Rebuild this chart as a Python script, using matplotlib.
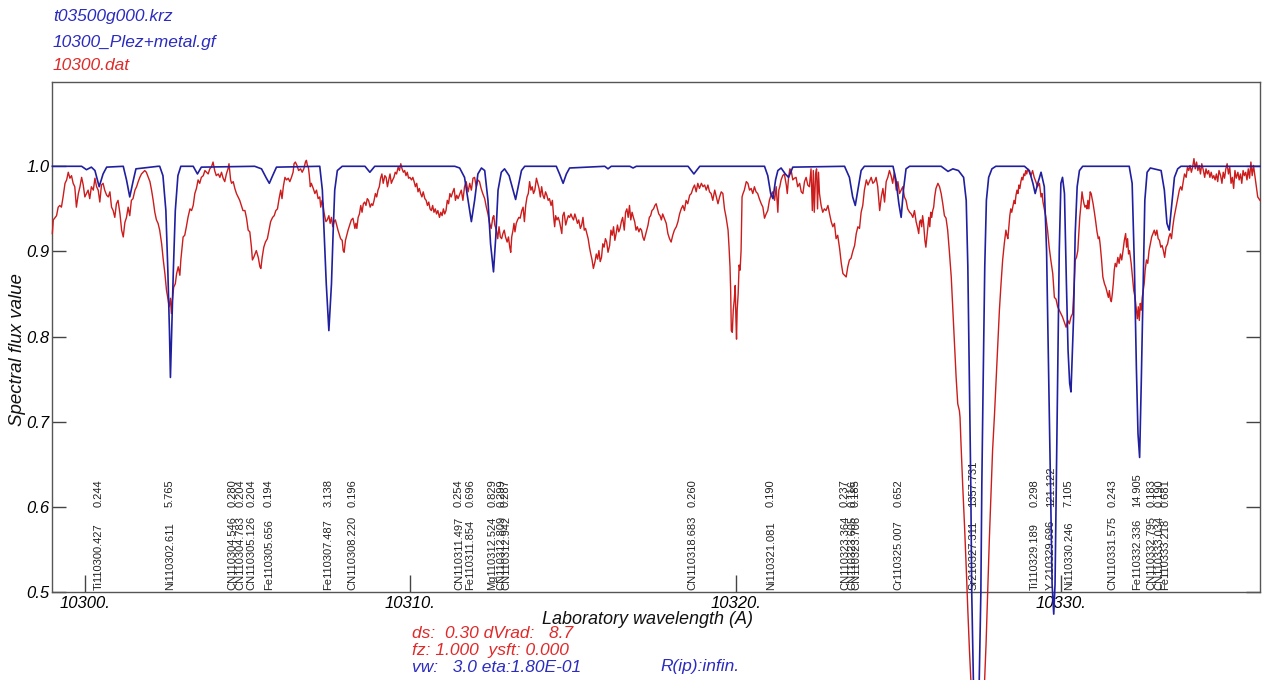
import matplotlib
matplotlib.use("Agg")
import matplotlib.pyplot as plt
import numpy as np

# ---------------- data ----------------
# observed spectrum (10300.dat), wavelength [A], flux
obs_a = [(10299.00,0.921),(10299.03,0.937),(10299.13,0.942),(10299.18,0.952),(10299.23,0.954),(10299.28,0.952),
 (10299.33,0.964),(10299.39,0.980),(10299.44,0.984),(10299.49,0.993),(10299.54,0.986),(10299.59,0.989),
 (10299.64,0.980),(10299.69,0.976),(10299.74,0.952),(10299.80,0.968),(10299.85,0.976),(10299.90,0.987),
 (10299.95,0.978),(10300.00,0.964),(10300.05,0.968),(10300.10,0.972),(10300.15,0.962),(10300.20,0.976),
 (10300.26,0.972),(10300.31,0.986),(10300.36,0.976),(10300.41,0.972),(10300.46,0.958),(10300.51,0.978),
 (10300.56,0.980),(10300.61,0.972),(10300.67,0.966),(10300.72,0.964),(10300.77,0.970),(10300.82,0.952),
 (10300.87,0.948),(10300.92,0.940),(10300.97,0.956),(10301.02,0.960),(10301.08,0.944),(10301.13,0.925),
 (10301.18,0.917),(10301.23,0.934),(10301.28,0.940),(10301.33,0.952),(10301.38,0.942),(10301.43,0.960),
 (10301.48,0.962),(10301.54,0.972),(10301.59,0.976),(10301.64,0.982),(10301.69,0.987),(10301.74,0.991),
 (10301.79,0.993),(10301.84,0.995),(10301.89,0.993),(10301.95,0.987),(10302.00,0.982),(10302.05,0.972),
 (10302.10,0.960),(10302.15,0.946),(10302.20,0.937),(10302.25,0.933),(10302.30,0.925),(10302.36,0.909),
 (10302.41,0.890),(10302.46,0.874),(10302.51,0.854),(10302.56,0.843),(10302.59,0.835),(10302.63,0.845),
 (10302.66,0.827),(10302.69,0.843),(10302.73,0.858),(10302.78,0.862),(10302.82,0.874),(10302.87,0.882),
 (10302.92,0.872),(10302.95,0.890),(10302.99,0.905),(10303.02,0.917),(10303.07,0.919),(10303.12,0.929),
 (10303.17,0.940),(10303.23,0.950),(10303.28,0.948),(10303.33,0.954),(10303.38,0.968),(10303.43,0.974),
 (10303.48,0.984),(10303.53,0.980),(10303.58,0.987),(10303.64,0.989),(10303.69,0.995),(10303.74,0.993),
 (10303.79,0.991),(10303.84,0.997),(10303.89,0.999),(10303.94,1.005),(10303.99,0.995),(10304.04,0.989),
 (10304.10,0.991),(10304.15,0.987),(10304.20,0.993),(10304.25,0.986),(10304.30,0.982),(10304.35,0.991),
 (10304.40,0.997),(10304.43,1.003),(10304.48,0.984),(10304.51,0.980),(10304.56,0.982),(10304.61,0.974),
 (10304.66,0.968),(10304.71,0.964),(10304.76,0.960),(10304.81,0.954),(10304.86,0.948),(10304.92,0.948),
 (10304.97,0.939),(10305.02,0.925),(10305.07,0.923),(10305.12,0.905),(10305.15,0.890),(10305.19,0.893)]

obs_b = [(10305.27,0.901),(10305.33,0.893),(10305.38,0.882),(10305.41,0.880),(10305.45,0.893),(10305.50,0.905),
 (10305.55,0.911),(10305.61,0.915),(10305.66,0.925),(10305.71,0.935),(10305.77,0.940),(10305.82,0.942),
 (10305.87,0.948),(10305.92,0.950),(10305.97,0.962),(10306.02,0.972),(10306.06,0.962),(10306.10,0.976),
 (10306.15,0.987),(10306.20,0.984),(10306.25,0.986),(10306.30,0.982),(10306.35,0.987),(10306.40,0.993),
 (10306.43,1.003),(10306.47,1.005),(10306.52,1.001),(10306.57,0.995),(10306.63,0.997),(10306.68,0.993),
 (10306.73,0.997),(10306.78,1.005),(10306.81,1.007),(10306.84,1.001),(10306.87,0.999),(10306.90,0.989),
 (10306.93,0.976),(10306.96,0.980),(10307.02,0.974),(10307.07,0.968),(10307.12,0.972),(10307.17,0.962),
 (10307.22,0.964),(10307.25,0.952),(10307.29,0.960),(10307.32,0.956),(10307.35,0.946),(10307.38,0.940),
 (10307.41,0.935),(10307.45,0.937),(10307.50,0.942),(10307.54,0.933),(10307.58,0.940),(10307.62,0.929),
 (10307.66,0.935),(10307.70,0.937),(10307.74,0.931),(10307.78,0.925),(10307.83,0.919),(10307.86,0.915),
 (10307.91,0.913),(10307.94,0.901),(10307.97,0.899),(10308.01,0.913),(10308.05,0.919),(10308.09,0.925),
 (10308.14,0.931),(10308.19,0.937),(10308.24,0.939),(10308.30,0.927),(10308.33,0.933),(10308.36,0.927),
 (10308.40,0.940),(10308.44,0.944),(10308.48,0.954),(10308.52,0.946),(10308.56,0.956),(10308.60,0.958),
 (10308.64,0.954),(10308.68,0.962),(10308.72,0.960),(10308.77,0.952),(10308.81,0.956),(10308.85,0.954),
 (10308.89,0.960),(10308.93,0.968),(10308.97,0.964),(10309.01,0.972),(10309.05,0.976),(10309.09,0.986),
 (10309.13,0.991),(10309.17,0.980),(10309.22,0.989),(10309.26,0.987),(10309.30,0.976),(10309.34,0.984),
 (10309.38,0.991),(10309.42,0.980),(10309.46,0.984),(10309.50,0.987),(10309.54,0.993),(10309.58,0.991),
 (10309.63,0.999),(10309.67,0.995),(10309.71,1.003),(10309.75,0.997),(10309.79,0.993),(10309.83,0.995),
 (10309.87,0.989),(10309.91,0.993),(10309.95,0.986),(10309.99,0.987),(10310.04,0.984),(10310.08,0.987),
 (10310.12,0.982),(10310.16,0.976),(10310.20,0.980),(10310.24,0.970),(10310.28,0.974),(10310.32,0.968),
 (10310.36,0.964),(10310.40,0.970),(10310.45,0.962),(10310.49,0.960),(10310.53,0.954),(10310.57,0.958),
 (10310.61,0.950),(10310.65,0.948),(10310.69,0.954),(10310.73,0.946),(10310.77,0.950),(10310.81,0.944),
 (10310.85,0.948),(10310.90,0.940),(10310.94,0.946),(10310.98,0.942),(10311.02,0.950),(10311.06,0.944),
 (10311.10,0.948),(10311.14,0.960),(10311.18,0.956),(10311.22,0.968),(10311.26,0.964),(10311.31,0.970),
 (10311.35,0.974),(10311.39,0.960),(10311.43,0.966),(10311.47,0.962)]

obs_c = [(10311.57,0.972),(10311.62,0.960),(10311.67,0.976),(10311.72,0.982),(10311.78,0.970),(10311.83,0.980),
 (10311.88,0.972),(10311.93,0.986),(10311.98,0.987),(10312.03,0.976),(10312.08,0.984),(10312.13,0.982),
 (10312.18,0.974),(10312.23,0.968),(10312.29,0.962),(10312.34,0.952),(10312.39,0.944),(10312.44,0.933),
 (10312.49,0.927),(10312.54,0.940),(10312.57,0.942),(10312.60,0.931),(10312.65,0.925),(10312.69,0.915),
 (10312.73,0.929),(10312.77,0.917),(10312.81,0.915),(10312.85,0.921),(10312.89,0.925),(10312.93,0.917),
 (10312.98,0.911),(10313.02,0.917),(10313.06,0.905),(10313.09,0.899),(10313.12,0.917),(10313.16,0.925),
 (10313.19,0.933),(10313.22,0.923),(10313.26,0.933),(10313.30,0.937),(10313.34,0.940),(10313.38,0.939),
 (10313.43,0.948),(10313.47,0.952),(10313.51,0.935),(10313.55,0.954),(10313.59,0.964),(10313.63,0.968),
 (10313.67,0.982),(10313.71,0.972),(10313.75,0.976),(10313.79,0.968),(10313.83,0.972),(10313.88,0.986),
 (10313.92,0.980),(10313.96,0.974),(10314.00,0.964),(10314.04,0.976),(10314.08,0.966),(10314.12,0.962),
 (10314.16,0.970),(10314.20,0.966),(10314.24,0.960),(10314.28,0.962),(10314.33,0.954),(10314.37,0.960),
 (10314.41,0.940),(10314.44,0.929),(10314.47,0.942),(10314.51,0.937),(10314.55,0.940),(10314.59,0.935),
 (10314.63,0.927),(10314.66,0.921),(10314.69,0.942),(10314.73,0.946),(10314.78,0.931),(10314.82,0.937),
 (10314.86,0.942),(10314.90,0.940),(10314.94,0.944),(10314.98,0.940),(10315.02,0.937),(10315.06,0.944),
 (10315.10,0.939),(10315.14,0.933),(10315.18,0.937),(10315.23,0.927),(10315.27,0.931),(10315.31,0.940),
 (10315.35,0.925),(10315.39,0.927),(10315.43,0.921),(10315.47,0.915),(10315.51,0.905),(10315.55,0.897),
 (10315.59,0.890),(10315.63,0.880),(10315.68,0.888),(10315.72,0.897),(10315.76,0.891),(10315.80,0.901),
 (10315.84,0.888),(10315.88,0.893),(10315.92,0.909),(10315.96,0.905),(10316.00,0.915),(10316.04,0.911),
 (10316.08,0.899),(10316.13,0.907),(10316.17,0.925),(10316.21,0.919),(10316.25,0.929),(10316.29,0.913),
 (10316.33,0.921),(10316.37,0.931),(10316.41,0.923),(10316.45,0.927),(10316.49,0.935),(10316.53,0.940),
 (10316.58,0.925),(10316.62,0.946),(10316.66,0.950),(10316.70,0.940),(10316.74,0.954),(10316.78,0.937),
 (10316.82,0.946),(10316.86,0.940),(10316.90,0.935),(10316.94,0.925),(10316.98,0.929),(10317.03,0.923),
 (10317.07,0.927),(10317.11,0.925),(10317.15,0.917),(10317.19,0.913),(10317.23,0.919),(10317.27,0.925),
 (10317.31,0.931),(10317.35,0.940),(10317.39,0.942),(10317.43,0.948),(10317.48,0.950),(10317.52,0.954),
 (10317.56,0.956),(10317.60,0.950),(10317.64,0.944),(10317.68,0.942),(10317.72,0.937),(10317.76,0.944)]

obs_d = [(10317.87,0.933),(10317.92,0.921),(10317.97,0.915),(10318.02,0.911),(10318.07,0.919),(10318.12,0.925),
 (10318.18,0.929),(10318.23,0.935),(10318.28,0.944),(10318.33,0.950),(10318.38,0.954),(10318.43,0.948),
 (10318.48,0.960),(10318.53,0.956),(10318.59,0.966),(10318.64,0.968),(10318.69,0.974),(10318.74,0.978),
 (10318.79,0.970),(10318.84,0.980),(10318.89,0.974),(10318.95,0.980),(10319.00,0.976),(10319.05,0.978),
 (10319.10,0.972),(10319.15,0.978),(10319.20,0.970),(10319.25,0.968),(10319.30,0.960),(10319.36,0.972),
 (10319.41,0.964),(10319.46,0.956),(10319.51,0.964),(10319.56,0.970),(10319.61,0.968),(10319.66,0.950),
 (10319.71,0.940),(10319.77,0.925),(10319.80,0.905),(10319.83,0.882),(10319.85,0.854),(10319.87,0.807),
 (10319.90,0.805),(10319.93,0.831),(10319.96,0.843),(10319.99,0.860),(10320.01,0.823),(10320.03,0.797),
 (10320.05,0.831),(10320.08,0.850),(10320.11,0.884),(10320.14,0.878),(10320.17,0.901),(10320.20,0.964),
 (10320.23,0.968),(10320.27,0.972),(10320.33,0.982),(10320.38,0.980),(10320.43,0.972),(10320.48,0.974),
 (10320.53,0.968),(10320.58,0.976),(10320.63,0.970),(10320.68,0.968),(10320.73,0.962),(10320.79,0.956),
 (10320.84,0.952),(10320.89,0.939),(10320.94,0.944),(10320.99,0.948),(10321.04,0.960),(10321.09,0.966),
 (10321.14,0.970),(10321.20,0.960),(10321.25,0.976),(10321.30,0.946),(10321.33,0.972),(10321.36,0.976),
 (10321.40,0.984),(10321.45,0.989),(10321.50,0.991),(10321.56,0.978),(10321.59,0.968),(10321.63,0.987),
 (10321.67,0.997),(10321.71,0.995),(10321.76,0.984),(10321.81,0.986),(10321.86,0.987),(10321.91,0.976),
 (10321.97,0.980),(10322.02,0.970),(10322.07,0.968),(10322.12,0.982),(10322.17,0.987),(10322.22,0.978),
 (10322.27,0.976),(10322.32,0.997),(10322.36,0.948),(10322.39,0.995),(10322.42,0.946),(10322.46,0.991),
 (10322.49,0.997),(10322.52,0.950),(10322.55,0.993),(10322.58,0.968),(10322.63,0.954),(10322.68,0.946),
 (10322.73,0.950),(10322.78,0.948),(10322.84,0.954),(10322.89,0.944),(10322.94,0.935),(10322.99,0.929),
 (10323.04,0.933),(10323.09,0.915),(10323.14,0.919),(10323.20,0.903),(10323.25,0.886),(10323.30,0.874),
 (10323.35,0.872),(10323.40,0.870),(10323.45,0.882),(10323.50,0.890),(10323.55,0.892),(10323.61,0.901),
 (10323.66,0.907),(10323.71,0.921),(10323.76,0.929),(10323.81,0.927),(10323.86,0.946),(10323.91,0.954),
 (10323.96,0.972),(10324.02,0.984),(10324.07,0.978)]

obs_e = [(10324.17,0.987),(10324.22,0.980),(10324.27,0.982),(10324.32,0.987),(10324.37,0.976),(10324.43,0.948),
 (10324.48,0.964),(10324.53,0.974),(10324.58,0.958),(10324.63,0.982),(10324.68,0.987),(10324.73,0.995),
 (10324.78,0.989),(10324.83,0.980),(10324.88,0.993),(10324.94,0.972),(10324.99,0.982),(10325.04,0.968),
 (10325.09,0.972),(10325.14,0.976),(10325.19,0.964),(10325.24,0.960),(10325.29,0.950),(10325.35,0.946),
 (10325.40,0.944),(10325.45,0.940),(10325.50,0.948),(10325.55,0.935),(10325.60,0.927),(10325.63,0.921),
 (10325.66,0.935),(10325.69,0.937),(10325.72,0.929),(10325.75,0.942),(10325.78,0.933),(10325.82,0.913),
 (10325.85,0.905),(10325.88,0.917),(10325.91,0.929),(10325.94,0.940),(10325.97,0.929),(10326.00,0.946),
 (10326.03,0.940),(10326.06,0.948),(10326.09,0.952),(10326.12,0.964),(10326.16,0.974),(10326.22,0.980),
 (10326.27,0.976),(10326.32,0.968),(10326.37,0.956),(10326.42,0.942),(10326.47,0.939),(10326.52,0.925),
 (10326.57,0.901),(10326.63,0.870),(10326.68,0.831),(10326.73,0.792),(10326.78,0.752),(10326.83,0.721),
 (10326.88,0.713),(10326.90,0.705),(10326.93,0.674),(10326.98,0.627),(10327.04,0.576),(10327.09,0.529),
 (10327.14,0.478),(10327.19,0.431),(10327.24,0.391),(10327.45,0.300),(10327.65,0.391),(10327.70,0.439),
 (10327.75,0.502),(10327.80,0.561),(10327.85,0.615),(10327.90,0.666),(10327.96,0.709),(10328.01,0.749),
 (10328.06,0.788),(10328.11,0.831),(10328.16,0.862),(10328.21,0.890),(10328.26,0.909),(10328.31,0.925),
 (10328.34,0.919),(10328.37,0.915),(10328.40,0.929),(10328.43,0.942),(10328.46,0.950),(10328.49,0.946),
 (10328.53,0.954),(10328.56,0.960),(10328.59,0.956),(10328.62,0.966),(10328.65,0.972),(10328.68,0.968),
 (10328.71,0.978),(10328.74,0.974),(10328.77,0.982),(10328.80,0.987),(10328.83,0.984),(10328.86,0.991),
 (10328.89,0.989),(10328.92,0.995),(10328.95,0.991),(10328.98,0.997),(10329.03,0.993),(10329.08,0.989),
 (10329.13,0.995),(10329.18,0.987),(10329.23,0.982),(10329.28,0.976),(10329.34,0.980),(10329.39,0.964),
 (10329.42,0.968),(10329.45,0.958),(10329.49,0.950),(10329.54,0.940),(10329.59,0.925),(10329.64,0.905),
 (10329.69,0.890),(10329.75,0.874),(10329.80,0.846),(10329.85,0.844),(10329.90,0.835),(10329.95,0.831),
 (10330.00,0.827),(10330.05,0.823)]

obs_f = [(10330.16,0.811),(10330.21,0.819),(10330.26,0.815),(10330.31,0.823),(10330.36,0.827),(10330.41,0.862),
 (10330.44,0.890),(10330.48,0.893),(10330.52,0.901),(10330.55,0.921),(10330.58,0.940),(10330.62,0.956),
 (10330.65,0.970),(10330.68,0.962),(10330.71,0.956),(10330.74,0.952),(10330.77,0.954),(10330.80,0.950),
 (10330.83,0.960),(10330.86,0.950),(10330.90,0.970),(10330.93,0.968),(10330.96,0.962),(10330.99,0.956),
 (10331.03,0.946),(10331.07,0.935),(10331.11,0.923),(10331.15,0.915),(10331.18,0.917),(10331.21,0.907),
 (10331.25,0.890),(10331.29,0.870),(10331.34,0.862),(10331.38,0.858),(10331.42,0.852),(10331.46,0.846),
 (10331.49,0.854),(10331.52,0.844),(10331.55,0.841),(10331.58,0.850),(10331.61,0.862),(10331.64,0.878),
 (10331.67,0.886),(10331.71,0.882),(10331.75,0.893),(10331.79,0.886),(10331.83,0.897),(10331.87,0.890),
 (10331.91,0.901),(10331.95,0.913),(10331.99,0.921),(10332.02,0.905),(10332.05,0.915),(10332.08,0.897),
 (10332.11,0.901),(10332.16,0.886),(10332.20,0.870),(10332.24,0.854),(10332.28,0.846),(10332.32,0.831),
 (10332.35,0.821),(10332.38,0.835),(10332.41,0.819),(10332.44,0.839),(10332.47,0.831),(10332.50,0.846),
 (10332.53,0.854),(10332.56,0.862),(10332.59,0.878),(10332.63,0.890),(10332.67,0.886),(10332.71,0.901),
 (10332.75,0.909),(10332.79,0.917),(10332.83,0.921),(10332.87,0.925),(10332.91,0.919),(10332.95,0.925),
 (10332.99,0.915),(10333.03,0.913),(10333.07,0.905),(10333.11,0.907),(10333.15,0.901),(10333.19,0.893),
 (10333.23,0.905),(10333.28,0.909),(10333.32,0.917),(10333.36,0.921),(10333.40,0.915),(10333.44,0.929),
 (10333.48,0.940),(10333.52,0.948),(10333.56,0.956),(10333.60,0.964),(10333.64,0.972),(10333.68,0.976),
 (10333.72,0.972),(10333.76,0.982),(10333.80,0.991),(10333.85,0.987),(10333.89,0.999),(10333.93,0.995),
 (10333.97,1.001),(10334.01,0.993),(10334.05,0.999),(10334.09,1.009),(10334.13,0.997),(10334.17,1.005),
 (10334.21,0.995),(10334.25,1.001),(10334.29,0.991),(10334.33,1.003),(10334.38,0.995),(10334.42,0.987),
 (10334.46,0.997),(10334.50,0.991),(10334.54,0.995),(10334.58,0.987),(10334.62,0.993),(10334.66,0.986),
 (10334.70,0.989),(10334.74,0.984),(10334.78,0.991),(10334.82,0.982),(10334.86,0.995),(10334.91,0.989),
 (10334.95,0.980),(10334.99,0.993),(10335.03,0.986),(10335.07,0.997),(10335.11,1.003),(10335.15,0.991),
 (10335.19,0.999),(10335.23,0.980),(10335.27,0.987),(10335.31,0.974),(10335.35,0.995),(10335.39,0.986),
 (10335.44,0.993),(10335.48,0.984),(10335.52,0.991),(10335.56,0.980),(10335.60,0.995),(10335.64,0.989),
 (10335.68,0.993),(10335.72,0.984),(10335.76,0.997),(10335.80,0.986),(10335.84,1.005),(10335.88,0.989),
 (10335.92,1.001),(10335.97,0.987),(10336.01,0.976),(10336.05,0.964),(10336.12,0.960)]

# synthetic spectrum (10300_Plez+metal.gf)
syn_a = [(10299.00,1.000),(10299.90,1.000),(10300.05,0.996),(10300.20,0.999),(10300.31,0.995),(10300.44,0.976),
 (10300.56,0.991),(10300.67,0.999),(10301.18,1.000),(10301.28,0.984),(10301.38,0.964),(10301.48,0.982),
 (10301.57,0.997),(10302.25,1.000),(10302.30,1.000),(10302.40,0.989),(10302.49,0.948),(10302.55,0.878),
 (10302.60,0.807),(10302.63,0.752),(10302.67,0.807),(10302.72,0.878),(10302.78,0.948),(10302.86,0.989),
 (10302.95,1.000),(10303.33,1.000),(10303.46,0.991),(10303.58,0.999),(10305.22,1.000),(10305.43,0.997),
 (10305.58,0.986),(10305.67,0.980),(10305.76,0.988),(10305.89,0.999),(10307.22,1.000),(10307.30,0.972),
 (10307.37,0.909),(10307.42,0.862),(10307.50,0.807),(10307.58,0.862),(10307.63,0.921),(10307.68,0.972),
 (10307.76,0.995),(10307.91,1.000),(10308.61,1.000),(10308.76,0.993),(10308.91,1.000),(10311.37,1.000),
 (10311.52,0.998),(10311.67,0.987),(10311.78,0.960),(10311.88,0.935),(10311.98,0.960),(10312.08,0.991),
 (10312.19,0.998),(10312.29,0.995),(10312.39,0.960),(10312.47,0.909),(10312.56,0.876),(10312.63,0.917),
 (10312.70,0.972),(10312.80,0.993),(10312.90,0.997),(10313.04,0.989),(10313.16,0.972),(10313.24,0.961),
 (10313.32,0.976),(10313.42,0.995),(10313.52,1.000),(10314.49,1.000),(10314.59,0.991),(10314.70,0.980),
 (10314.80,0.991),(10314.90,0.998),(10315.98,1.000),(10316.08,0.997),(10316.18,1.000),(10316.75,1.000),
 (10316.85,0.998),(10316.95,1.000),(10318.54,1.000),(10318.72,0.991),(10318.90,1.000)]

syn_b = [(10320.89,1.000),(10320.99,0.989),(10321.08,0.968),(10321.15,0.962),(10321.23,0.984),(10321.30,0.995),
 (10321.40,0.998),(10321.53,0.991),(10321.63,0.987),(10321.76,0.999),(10323.35,1.000),(10323.50,0.987),
 (10323.60,0.964),(10323.68,0.954),(10323.76,0.972),(10323.86,0.995),(10323.96,1.000),(10324.84,1.000),
 (10324.93,0.984),(10325.02,0.956),(10325.09,0.940),(10325.16,0.972),(10325.24,0.997),(10325.35,1.000),
 (10326.32,1.000),(10326.53,0.994),(10326.68,0.997),(10326.85,0.995),(10327.01,0.987),(10327.09,0.960),
 (10327.14,0.882),(10327.19,0.745),(10327.23,0.627),(10327.26,0.499),(10327.31,0.396),(10327.40,0.310),
 (10327.49,0.396),(10327.54,0.499),(10327.57,0.627),(10327.61,0.745),(10327.66,0.882),(10327.71,0.960),
 (10327.78,0.987),(10327.88,0.997),(10328.00,1.000),(10328.88,1.000),(10329.03,0.995),(10329.14,0.980),
 (10329.21,0.968),(10329.29,0.980),(10329.39,0.993),(10329.49,0.976),(10329.56,0.901),(10329.63,0.745),
 (10329.68,0.627),(10329.73,0.509),(10329.78,0.474),(10329.82,0.509),(10329.86,0.627),(10329.90,0.745),
 (10329.95,0.901),(10330.00,0.980),(10330.05,0.987),(10330.11,0.968),(10330.17,0.862),(10330.22,0.784),
 (10330.27,0.745),(10330.31,0.735),(10330.39,0.823),(10330.44,0.921),(10330.50,0.976),(10330.57,0.995),
 (10330.67,1.000),(10332.10,1.000),(10332.19,0.980),(10332.26,0.882),(10332.32,0.764),(10332.37,0.686),
 (10332.42,0.658),(10332.47,0.745),(10332.53,0.862),(10332.58,0.960),(10332.65,0.993),(10332.75,0.998),
 (10333.08,0.995),(10333.18,0.972),(10333.26,0.933),(10333.33,0.925),(10333.40,0.952),(10333.49,0.987),
 (10333.59,0.997),(10333.69,1.000),(10336.12,1.000)]

# line identifications: species+wavelength, gf-like value, wavelength
line_ids = ["Ti110300.427", "Ni110302.611", "CN110304.546", "CN110304.783", "CN110305.126",
            "Fe110305.656", "Fe110307.487", "CN110308.220", "CN110311.497", "Fe110311.854",
            "Mg110312.524", "CN110312.809", "CN110312.942", "CN110318.683", "Ni110321.081",
            "CN110323.364", "CN110323.605", "CN110323.706", "Cr110325.007", "Sr210327.311",
            "Ti110329.189", "Y 210329.696", "Ni110330.246", "CN110331.575", "Fe110332.336",
            "CN110332.795", "CN110333.034", "Fe110333.218"]
line_vals = ["0.244", "5.765", "0.280", "0.204", "0.204",
             "0.194", "3.138", "0.196", "0.254", "0.696",
             "0.829", "0.299", "0.287", "0.260", "0.190",
             "0.237", "0.116", "0.185", "0.652", "1357.731",
             "0.298", "121.122", "7.105", "0.243", "14.905",
             "0.183", "0.190", "0.681"]
line_waves = [10300.427, 10302.611, 10304.546, 10304.783, 10305.126,
              10305.656, 10307.487, 10308.220, 10311.497, 10311.854,
              10312.524, 10312.809, 10312.942, 10318.683, 10321.081,
              10323.364, 10323.605, 10323.706, 10325.007, 10327.311,
              10329.189, 10329.696, 10330.246, 10331.575, 10332.336,
              10332.795, 10333.034, 10333.218]

x_ticks = [10300, 10310, 10320, 10330]
x_tick_labels = ["10300.", "10310.", "10320.", "10330."]
y_ticks = [0.5, 0.6, 0.7, 0.8, 0.9, 1.0]
y_tick_labels = ["0.5", "0.6", "0.7", "0.8", "0.9", "1.0"]

file_names = ["t03500g000.krz", "10300_Plez+metal.gf", "10300.dat"]
info_lines = ["ds:  0.30 dVrad:   8.7", "fz: 1.000  ysft: 0.000", "vw:   3.0 eta:1.80E-01"]
info_extra = "R(ip):infin."

# ---------------- drawing ----------------
plt.rcParams['font.family'] = ['Liberation Sans', 'DejaVu Sans']
plt.rcParams['font.style'] = 'italic'

W, H = 1263, 680
fig = plt.figure(figsize=(W / 100, H / 100), dpi=100)
ax = fig.add_axes([52 / W, (H - 592) / H, (1260 - 52) / W, (592 - 82) / H])

BLUE = '#1f1fa0'
RED = '#cc1c1c'
TXT_BLUE = '#2b2bc0'
TXT_RED = '#e02a2a'

obs = np.array(obs_a + obs_b + obs_c + obs_d + obs_e + obs_f)
syn = np.array(syn_a + syn_b)

ax.plot(obs[:, 0], obs[:, 1], color=RED, lw=1.0, clip_on=False, zorder=3)
ax.plot(syn[:, 0], syn[:, 1], color=BLUE, lw=1.2, clip_on=False, zorder=4)

ax.set_xlim(10298.99, 10336.12)
ax.set_ylim(0.5, 1.099)

for wl, lid, val in zip(line_waves, line_ids, line_vals):
    ax.text(wl, 0.5025, lid, rotation=90, ha='center', va='bottom', fontsize=8.0,
            fontstyle='normal', color='#222222', zorder=2, rotation_mode='default')
    ax.text(wl, 0.600, val, rotation=90, ha='center', va='bottom', fontsize=8.0,
            fontstyle='normal', color='#222222', zorder=2, rotation_mode='default')

ax.set_xticks(x_ticks)
ax.set_xticklabels(x_tick_labels, fontsize=12, fontstyle='italic')
ax.set_yticks(y_ticks)
ax.set_yticklabels(y_tick_labels, fontsize=12, fontstyle='italic')
ax.tick_params(axis='x', direction='in', length=12, width=1.0, color='#444444', pad=3,
               top=False, bottom=True)
ax.tick_params(axis='y', direction='in', length=10, width=1.0, color='#444444', pad=2,
               left=True, right=True)
for s in ax.spines.values():
    s.set_color('#555555')
    s.set_linewidth(1.0)

fig.text(648 / W, 1 - 620 / H, "Laboratory wavelength (A)", fontsize=13, ha='center',
         va='center', fontstyle='italic', color='#111111')
fig.text(18 / W, 1 - 350 / H, "Spectral flux value", fontsize=13.5, rotation=90,
         ha='center', va='center', fontstyle='italic', color='#111111')

# file names top-left
for txt, yc, col in zip(file_names, [17, 42, 66], [TXT_BLUE, TXT_BLUE, TXT_RED]):
    fig.text(53 / W, 1 - yc / H, txt, fontsize=12.5, ha='left', va='center',
             fontstyle='italic', color=col)

# parameters at bottom
for txt, yc, col in zip(info_lines, [633, 650, 667], [TXT_RED, TXT_RED, TXT_BLUE]):
    fig.text(412 / W, 1 - yc / H, txt, fontsize=12.5, ha='left', va='center',
             fontstyle='italic', color=col)
fig.text(660 / W, 1 - 667 / H, info_extra, fontsize=12.5, ha='left', va='center',
         fontstyle='italic', color=TXT_BLUE)

fig.savefig("out.png", dpi=100)
